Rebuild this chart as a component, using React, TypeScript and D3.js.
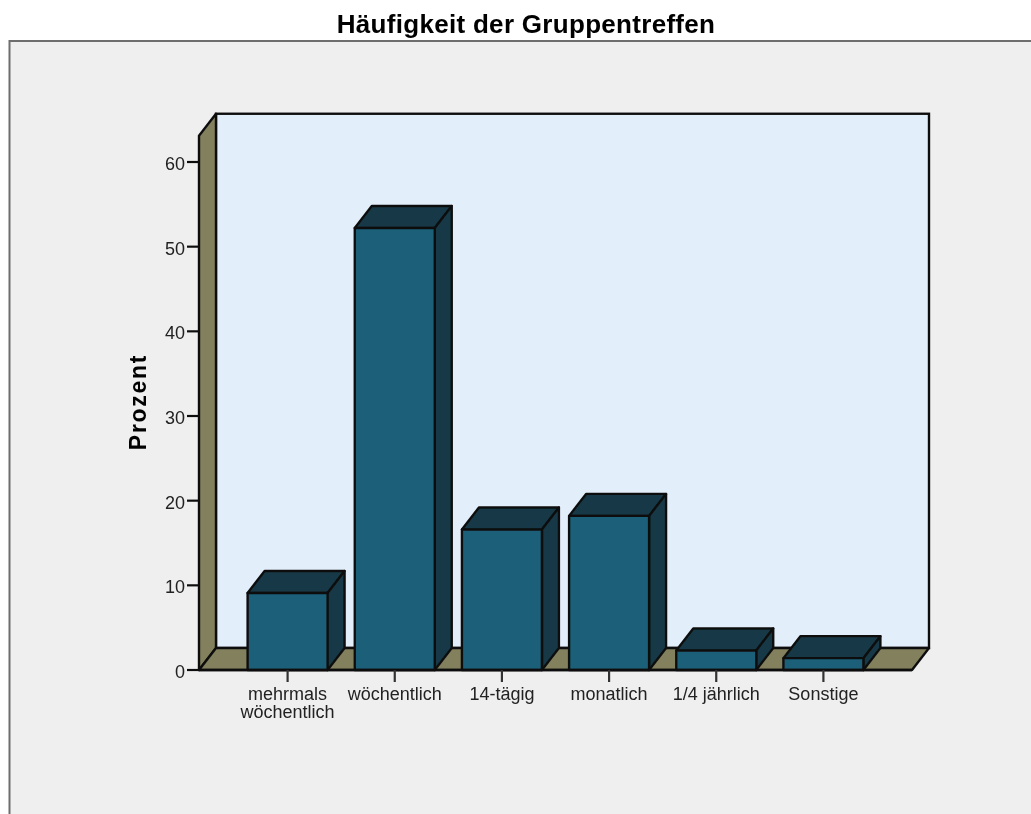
import React from "react";
import * as d3 from "d3";

const title = "Häufigkeit der Gruppentreffen";
const yLabel = "Prozent";
const categories = ["mehrmals|wöchentlich", "wöchentlich", "14-tägig", "monatlich", "1/4 jährlich", "Sonstige"];
const percent = [9.1, 52.2, 16.6, 18.2, 2.3, 1.4];
const yTicks = [0, 10, 20, 30, 40, 50, 60];

const W = 1031, H = 814;
const dx = 17, dy = 22;
const yMax = 63.1;
const y = d3.scaleLinear().domain([0, 60]).range([670, 162]);
const x = d3.scaleBand<string>().domain(categories).range([234, 877]).paddingInner(0.2537).paddingOuter(0.127);
const left = 199, right = 912, base = y(0), top = y(yMax);
const INK = "#111111";
const FONT = "'Liberation Sans', Arial, sans-serif";
const poly = (p: number[][]) => d3.line()(p as [number, number][]) + "Z";

export default function App() {
  return (
    <svg width={W} height={H} viewBox={`0 0 ${W} ${H}`} style={{ position: "absolute", left: 0, top: 0, background: "#fff", display: "block" }} fontFamily={FONT}>
      <defs>
        <filter id="soft" x="0" y="0" width="100%" height="100%" filterUnits="userSpaceOnUse" primitiveUnits="userSpaceOnUse">
          <feGaussianBlur stdDeviation={0.4} />
        </filter>
      </defs>
      <g filter="url(#soft)">
        <rect x={9.5} y={41} width={W + 20} height={H + 20} fill="#efefef" stroke="#6e6e6e" strokeWidth={2} />
        <text x={526} y={33} textAnchor="middle" fontSize={26} letterSpacing={0.3} fontWeight={700} fill="#000">{title}</text>
        <rect x={left + dx} y={top - dy} width={right - left} height={base - top} fill="#e3eefb" stroke={INK} strokeWidth={2.4} />
        <path d={poly([[left, base], [left, top], [left + dx, top - dy], [left + dx, base - dy]])} fill="#82805d" stroke={INK} strokeWidth={2.4} strokeLinejoin="round" />
        <path d={poly([[left, base], [left + dx, base - dy], [right + dx, base - dy], [right, base]])} fill="#82805d" stroke={INK} strokeWidth={2.4} strokeLinejoin="round" />
        {yTicks.map((t) => (
          <g key={t}>
            <line x1={left - 12} x2={left} y1={y(t)} y2={y(t)} stroke={INK} strokeWidth={2.2} />
            <text x={left - 14} y={y(t) + 8} textAnchor="end" fontSize={18} fill="#222">{t}</text>
          </g>
        ))}
        <text transform="translate(146,402) rotate(-90)" textAnchor="middle" fontSize={23} fontWeight={700} letterSpacing={1.7} fill="#000">{yLabel}</text>
        {categories.map((c, i) => {
          const x0 = x(c)!, x1 = x0 + x.bandwidth(), yv = y(percent[i]);
          return (
            <g key={c} stroke={INK} strokeWidth={2.4} strokeLinejoin="round">
              <path d={poly([[x0, yv], [x0 + dx, yv - dy], [x1 + dx, yv - dy], [x1, yv]])} fill="#143946" />
              <path d={poly([[x1, yv], [x1 + dx, yv - dy], [x1 + dx, base - dy], [x1, base]])} fill="#143946" />
              <rect x={x0} y={yv} width={x.bandwidth()} height={base - yv} fill="#1c5f78" />
            </g>
          );
        })}
        <line x1={left} x2={right} y1={base} y2={base} stroke={INK} strokeWidth={2.4} />
        {categories.map((c) => {
          const cx = x(c)! + x.bandwidth() / 2;
          return (
            <g key={c}>
              <line x1={cx} x2={cx} y1={base} y2={base + 12} stroke="#333" strokeWidth={2.2} />
              {c.split("|").map((ln, j) => (
                <text key={ln} x={cx} y={699.5 + j * 18} textAnchor="middle" fontSize={18} fill="#222">{ln}</text>
              ))}
            </g>
          );
        })}
      </g>
    </svg>
  );
}
